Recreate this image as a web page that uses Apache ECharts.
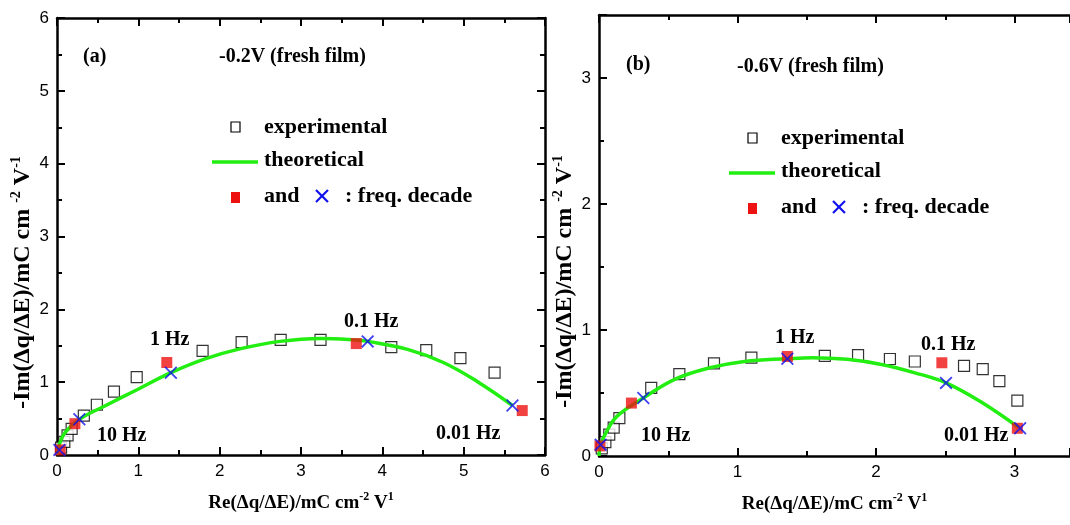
<!DOCTYPE html>
<html>
<head>
<meta charset="utf-8">
<script src="https://cdn.jsdelivr.net/npm/echarts@6/dist/echarts.min.js"></script>
<style>
  html, body { margin: 0; padding: 0; background: #fff; }
  #chart { width: 1070px; height: 525px; }
</style>
</head>
<body>
<div id="chart"></div>
<script>
// panel (a) -0.2V
const expA = [[0.05, 0.10], [0.09, 0.18], [0.13, 0.27], [0.18, 0.36], [0.33, 0.54], [0.49, 0.69],
  [0.70, 0.87], [0.98, 1.07], [1.79, 1.43], [2.27, 1.55], [2.75, 1.58], [3.24, 1.58],
  [4.11, 1.48], [4.54, 1.44], [4.96, 1.33], [5.38, 1.13]];
const theoA = [[0.0, 0.0], [0.03, 0.15], [0.10, 0.31], [0.275, 0.49], [0.60, 0.68], [0.99, 0.90],
  [1.40, 1.13], [1.82, 1.32], [2.26, 1.46], [2.74, 1.56], [3.24, 1.60], [3.66, 1.58],
  [3.82, 1.56], [4.31, 1.45], [4.75, 1.27], [5.18, 1.00], [5.60, 0.68]];
const redA = [[0.04, 0.07], [0.22, 0.43], [1.35, 1.27], [3.68, 1.53], [5.72, 0.61]];
const blueA = [[0.03, 0.07], [0.275, 0.49], [1.40, 1.13], [3.82, 1.56], [5.60, 0.68]];

// panel (b) -0.6V
const expB = [[0.02, 0.06], [0.046, 0.11], [0.074, 0.17], [0.106, 0.225], [0.147, 0.30], [0.377, 0.54],
  [0.58, 0.65], [0.83, 0.735], [1.10, 0.78], [1.63, 0.795], [1.87, 0.80], [2.10, 0.77],
  [2.28, 0.75], [2.635, 0.715], [2.77, 0.69], [2.89, 0.595], [3.02, 0.44]];
const theoB = [[0.0, 0.0], [0.012, 0.09], [0.062, 0.21], [0.135, 0.32], [0.32, 0.46], [0.55, 0.61],
  [0.80, 0.70], [1.05, 0.75], [1.36, 0.772], [1.54, 0.78], [1.79, 0.767], [2.03, 0.728],
  [2.28, 0.66], [2.505, 0.58], [2.77, 0.42], [3.03, 0.225]];
const redB = [[0.007, 0.08], [0.234, 0.42], [1.36, 0.79], [2.475, 0.74], [3.02, 0.22]];
const blueB = [[0.012, 0.09], [0.32, 0.46], [1.36, 0.772], [2.505, 0.58], [3.04, 0.22]];

const freqLabels = ['10 Hz', '1 Hz', '0.1 Hz', '0.01 Hz'];
const panelTags = ['(a)', '(b)'];
const panelTitles = ['-0.2V (fresh film)', '-0.6V (fresh film)'];
const legendTexts = ['experimental', 'theoretical', 'and', ': freq. decade'];

const serif = '"Liberation Serif", "Times New Roman", serif';
const bold = 'bold 20px ' + serif;
const legendFont = 'bold 22px ' + serif;
const crossPath = 'path://M0,1L1,0L5,4L9,0L10,1L6,5L10,9L9,10L5,6L1,10L0,9L4,5Z';

const xRich = {
  t: { fontFamily: serif, fontWeight: 'bold', fontSize: 19, color: '#000', lineHeight: 24 },
  s: { fontFamily: serif, fontWeight: 'bold', fontSize: 12, color: '#000', lineHeight: 24, verticalAlign: 'top' }
};
const yRich = {
  t: { fontFamily: serif, fontWeight: 'bold', fontSize: 24, color: '#000', lineHeight: 28 },
  s: { fontFamily: serif, fontWeight: 'bold', fontSize: 14, color: '#000', lineHeight: 28, verticalAlign: 'top' }
};
const xName = '{t|Re(Δq/ΔE)/mC cm}{s|-2}{t| V}{s|1}';
const yName = '{t|-Im(Δq/ΔE)/mC cm }{s|-2}{t| V}{s|-1}';

function axisBase(grid, max, pos, labels) {
  return {
    type: 'value', gridIndex: grid, min: 0, max: max, interval: 1, position: pos,
    axisLine: { show: true, onZero: false, lineStyle: { color: '#000', width: 2.5 } },
    axisTick: { show: true, inside: true, length: 8, lineStyle: { color: '#000', width: 2 } },
    minorTick: { show: true, splitNumber: 2, length: 5, lineStyle: { color: '#000', width: 2 } },
    axisLabel: { show: labels, color: '#000', fontFamily: '"Liberation Sans", Arial, sans-serif', fontSize: 17, margin: 8, showMaxLabel: max % 1 === 0 },
    splitLine: { show: false }
  };
}

function yTitle() {
  return { name: yName, nameLocation: 'middle', nameGap: 20, nameRotate: 90,
    nameTextStyle: { rich: yRich, padding: [0, 92, 0, 0] } };
}

const xAxes = [
  Object.assign(axisBase(0, 6, 'bottom', true), { name: xName, nameLocation: 'middle', nameGap: 36, nameTextStyle: { rich: xRich } }),
  axisBase(0, 6, 'top', false),
  Object.assign(axisBase(1, 3.4, 'bottom', true), { name: xName, nameLocation: 'middle', nameGap: 36, nameTextStyle: { rich: xRich } }),
  axisBase(1, 3.4, 'top', false)
];
const yAxes = [
  Object.assign(axisBase(0, 6, 'left', true), yTitle()),
  axisBase(0, 6, 'right', false),
  Object.assign(axisBase(1, 3.5, 'left', true), yTitle())
];

function panelSeries(xi, yi, exp, theo, red, blue) {
  return [
    { type: 'scatter', xAxisIndex: xi, yAxisIndex: yi, data: exp, symbol: 'rect', symbolSize: 11,
      itemStyle: { color: '#fff', borderColor: '#000', borderWidth: 1.2 }, z: 2 },
    { type: 'line', xAxisIndex: xi, yAxisIndex: yi, data: theo, smooth: 0.4, showSymbol: false,
      lineStyle: { color: '#22ee11', width: 3.5 }, z: 3 },
    { type: 'scatter', xAxisIndex: xi, yAxisIndex: yi, data: red, symbol: 'rect', symbolSize: 11,
      itemStyle: { color: '#ee1111' }, z: 4 },
    { type: 'scatter', xAxisIndex: xi, yAxisIndex: yi, data: blue, symbol: crossPath, symbolSize: 13,
      itemStyle: { color: '#1111ee' }, z: 5 }
  ];
}

function txt(x, y, s, font) {
  return { type: 'text', x: x, y: y, z: 10,
    style: { text: s, font: font || bold, fill: '#000', verticalAlign: 'middle', align: 'left' } };
}

function seg(x1, y1, x2, y2, color, w) {
  return { type: 'line', z: 10, shape: { x1: x1, y1: y1, x2: x2, y2: y2 },
    style: { stroke: color, lineWidth: w } };
}

function legendBlock(x0, y0) {
  const cx = x0 + 87, cy = y0 + 69;
  return [
    { type: 'rect', x: x0 - 4, y: y0 - 5, shape: { width: 9, height: 10 }, z: 10,
      style: { fill: '#fff', stroke: '#000', lineWidth: 1.2 } },
    txt(x0 + 29, y0, legendTexts[0], legendFont),
    seg(x0 - 23, y0 + 35, x0 + 23, y0 + 35, '#22ee11', 3.5),
    txt(x0 + 29, y0 + 33, legendTexts[1], legendFont),
    { type: 'rect', x: x0 - 4, y: y0 + 65, shape: { width: 9, height: 11 }, z: 10, style: { fill: '#ee1111' } },
    txt(x0 + 29, y0 + 69, legendTexts[2], legendFont),
    seg(cx - 6, cy - 6, cx + 6, cy + 6, '#1111ee', 2.2),
    seg(cx - 6, cy + 6, cx + 6, cy - 6, '#1111ee', 2.2),
    txt(x0 + 110, y0 + 69, legendTexts[3], legendFont)
  ];
}

let myChart = echarts.init(document.getElementById('chart'));
const option = {
  animation: false,
  backgroundColor: '#fff',
  grid: [
    { left: 57, top: 18, width: 488, height: 437 },
    { left: 599, top: 15, width: 471, height: 441 }
  ],
  xAxis: xAxes,
  yAxis: yAxes,
  series: [].concat(
    panelSeries(0, 0, expA, theoA, redA, blueA),
    panelSeries(2, 2, expB, theoB, redB, blueB)
  ),
  graphic: [].concat(
    [txt(83, 57, panelTags[0]), txt(219, 57, panelTitles[0])],
    legendBlock(235, 127),
    [txt(97, 436, freqLabels[0]), txt(150, 340, freqLabels[1]), txt(344, 322, freqLabels[2]), txt(436, 434, freqLabels[3])],
    [txt(626, 65, panelTags[1]), txt(737, 67, panelTitles[1])],
    legendBlock(752, 138),
    [txt(641, 436, freqLabels[0]), txt(775, 338, freqLabels[1]), txt(921, 345, freqLabels[2]), txt(944, 436, freqLabels[3])]
  )
};
myChart.setOption(option);
</script>
</body>
</html>
